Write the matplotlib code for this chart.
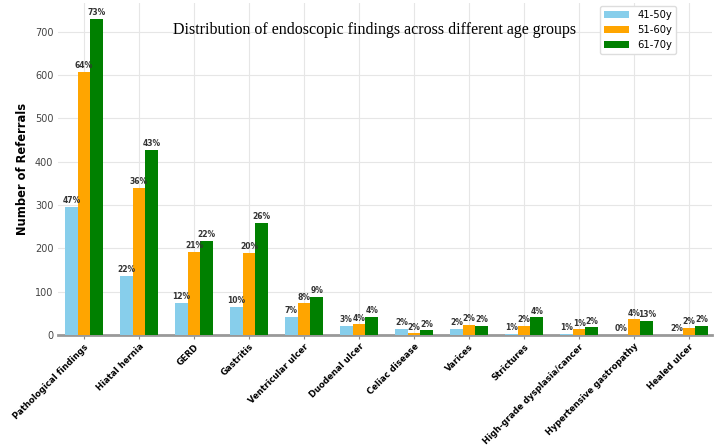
import numpy as np
import matplotlib
matplotlib.use("Agg")
import matplotlib.pyplot as plt

findings = [
    "Pathological findings", "Hiatal hernia", "GERD", "Gastritis",
    "Ventricular ulcer", "Duodenal ulcer", "Celiac disease", "Varices",
    "Strictures", "High-grade dysplasia/cancer", "Hypertensive gastropathy",
    "Healed ulcer",
]
groups = ["41-50y", "51-60y", "61-70y"]
colors = ["skyblue", "orange", "green"]

counts_41_50 = [296, 136, 74, 65, 42, 21, 14, 14, 2, 2, 0, 1]
counts_51_60 = [607, 339, 192, 189, 73, 25, 4, 23, 21, 13, 36, 17]
counts_61_70 = [730, 427, 217, 259, 88, 42, 11, 21, 41, 18, 33, 21]

pct_41_50 = [47, 22, 12, 10, 7, 3, 2, 2, 1, 1, 0, 2]
pct_51_60 = [64, 36, 21, 20, 8, 4, 2, 2, 2, 1, 4, 2]
pct_61_70 = [73, 43, 22, 26, 9, 4, 2, 2, 4, 2, 13, 2]

series = [counts_41_50, counts_51_60, counts_61_70]
pcts = [pct_41_50, pct_51_60, pct_61_70]

fig = plt.figure(figsize=(7.18, 4.45), dpi=100)
ax = fig.add_axes([0.081, 0.247, 0.911, 0.746])

x = np.arange(len(findings))
width = 0.23
for i, (vals, pc) in enumerate(zip(series, pcts)):
    bars = ax.bar(x + (i - 1) * width, vals, width, color=colors[i], label=groups[i], zorder=3)
    for b, p in zip(bars, pc):
        ax.text(b.get_x() + b.get_width() / 2, b.get_height() + 4, f"{p}%",
                ha="center", va="bottom", fontsize=5.5, fontweight="bold",
                color="#333333", zorder=4)

ax.set_xlim(-0.47, len(findings) - 0.58)
ax.set_ylim(0, 766)
ax.set_xticks(x)
ax.set_xticklabels(findings, rotation=45, ha="right", rotation_mode="anchor",
                   fontsize=6.1, fontweight="bold")
ax.set_yticks(range(0, 800, 100))
ax.tick_params(axis="y", labelsize=7, colors="#444444", length=0)
ax.tick_params(axis="x", length=3, color="#888888", pad=2)
ax.set_ylabel("Number of Referrals", fontsize=8.3, fontweight="bold")
ax.grid(True, color="#e6e6e6", linewidth=0.8, zorder=0)
for side in ["top", "right", "left"]:
    ax.spines[side].set_visible(False)
ax.spines["bottom"].set_color("#999999")
ax.spines["bottom"].set_linewidth(2)

fig.text(0.522, 0.933, "Distribution of endoscopic findings across different age groups",
         ha="center", va="center", family="Liberation Serif", fontsize=11.5)
ax.legend(loc="upper right", bbox_to_anchor=(676 / 718, 1 - 6 / 445),
          bbox_transform=fig.transFigure, borderaxespad=0,
          fontsize=7.2, framealpha=1, edgecolor="#dddddd",
          handlelength=2.5, handleheight=0.6)

fig.savefig("out.png", dpi=100)
